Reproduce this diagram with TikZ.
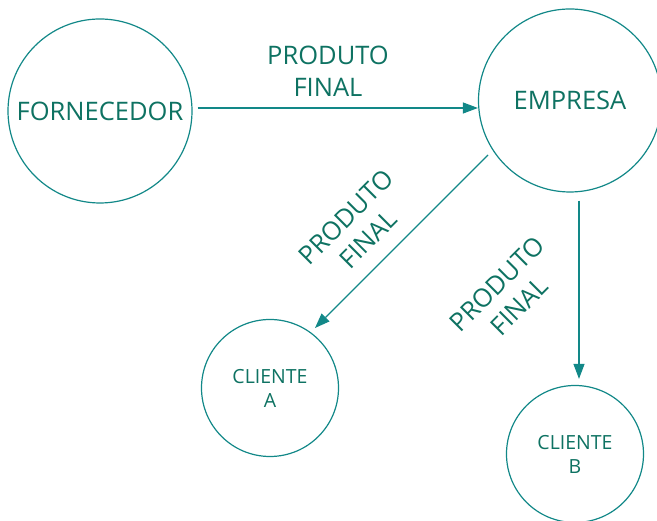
\documentclass[tikz,border=0pt]{standalone}
\usepackage{fontspec}
\setmainfont{Open Sans}
\usetikzlibrary{arrows.meta}
\definecolor{tealline}{RGB}{18,136,136}
\definecolor{tealtext}{RGB}{14,114,98}
\begin{document}
\begin{tikzpicture}[x=1pt,y=1pt,
  party/.style={circle,draw=tealline,line width=1.2pt,inner sep=0pt,
    text=tealtext,align=center},
  bigparty/.style={party,font=\fontsize{25.5}{30}\selectfont},
  smallparty/.style={party,font=\fontsize{19.5}{24}\selectfont},
  flow/.style={draw=tealline,line width=1.1pt,
    -{Triangle[length=15pt,width=11pt]}},
  flowlabel/.style={text=tealtext,align=center,
    font=\fontsize{25.5}{32}\selectfont}]
  \useasboundingbox (0,0) rectangle (657,521);

  % actors
  \node[bigparty,minimum size=184pt] (F) at (100,410) {FORNECEDOR};
  \node[bigparty,minimum size=183pt] (E) at (570,420.5) {EMPRESA};
  \node[smallparty,minimum size=137pt] (A) at (270,133) {CLIENTE\\A};
  \node[smallparty,minimum size=137pt] (B) at (575,67) {CLIENTE\\B};

  % connector end points
  \coordinate (fE) at ([shift={(5pt,3pt)}]F.east);
  \coordinate (tE) at ([shift={(0pt,-7.5pt)}]E.west);
  \coordinate (fA) at ([shift={(-82pt,-54.5pt)}]E.center);
  \coordinate (tA) at ([shift={(45pt,60pt)}]A.center);
  \coordinate (fB) at ([shift={(9pt,-8pt)}]E.south);
  \coordinate (tB) at ([shift={(4pt,6pt)}]B.north);

  % flows
  \draw[flow] (fE) -- (tE);
  \draw[flow] (fA) -- (tA);
  \draw[flow] (fB) -- (tB);

  % labels
  \node[flowlabel] (l1) at (328,450) {PRODUTO\\FINAL};
  \node[flowlabel,rotate=45] (l2) at (357,293) {PRODUTO\\FINAL};
  \node[flowlabel,rotate=45] (l3) at (508,226) {PRODUTO\\FINAL};
\end{tikzpicture}
\end{document}
